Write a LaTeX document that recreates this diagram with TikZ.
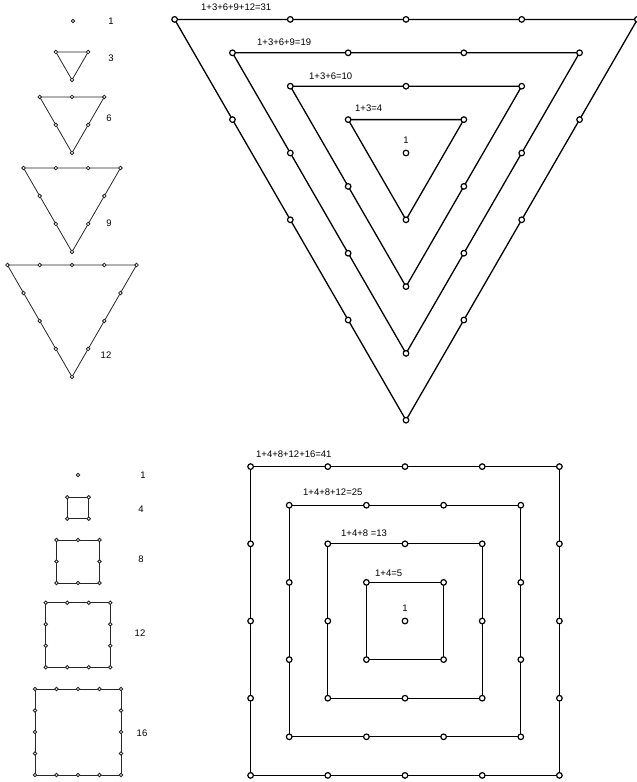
\documentclass[tikz,border=0pt]{standalone}
\usepackage{fontspec}
\setmainfont{Liberation Sans}
\usetikzlibrary{calc}

\begin{document}
\begin{tikzpicture}[x=1pt, y=-1pt,
    edge/.style={line width=1.3pt},
    thin edge/.style={line width=0.8pt, black!85},
    dot/.style={draw, line width=1.2pt, fill=white},
    small dot/.style={draw, line width=0.8pt, black!85, fill=white},
    lbl/.style={font=\fontsize{9.5}{10}\selectfont, inner sep=0pt}]

  \useasboundingbox (0,0) rectangle (637,782);

  % === Small triangles (left) ===
  \draw[small dot] (73,21) circle[radius=1.8pt];
  \node[lbl] (t1) at (111,21) {1};
  \foreach \k/\txt/\cy/\lx/\ly in {1/3/61.3/111/58, 2/6/115.6/109/118,
                                   3/9/196/109/223, 4/12/302.3/106/355} {
    \pgfmathsetmacro\s{32.3*\k}
    \coordinate (A) at (72-\s/2, \cy-\s*0.288675);
    \coordinate (B) at (72+\s/2, \cy-\s*0.288675);
    \coordinate (C) at (72, \cy+\s*0.57735);
    \draw[thin edge] (A) -- (B) -- (C) -- cycle;
    \pgfmathtruncatemacro\n{\k-1}
    \foreach \i in {0,...,\n} {
      \pgfmathsetmacro\f{\i/\k}
      \draw[small dot] ($(A)!\f!(B)$) circle[radius=1.8pt];
      \draw[small dot] ($(B)!\f!(C)$) circle[radius=1.8pt];
      \draw[small dot] ($(C)!\f!(A)$) circle[radius=1.8pt];
    }
    \node[lbl] at (\lx,\ly) {\txt};
  }

  % === Big nested triangles ===
  \foreach \k/\txt/\lx/\ly in {1/{1+3=4}/355/108, 2/{1+3+6=10}/309/76,
                               3/{1+3+6+9=19}/257/42, 4/{1+3+6+9+12=31}/201/7} {
    \pgfmathsetmacro\s{115.7*\k}
    \coordinate (A) at (406-\s/2, 153-\s*0.288675);
    \coordinate (B) at (406+\s/2, 153-\s*0.288675);
    \coordinate (C) at (406, 153+\s*0.57735);
    \draw[edge] (A) -- (B) -- (C) -- cycle;
    \pgfmathtruncatemacro\n{\k-1}
    \foreach \i in {0,...,\n} {
      \pgfmathsetmacro\f{\i/\k}
      \draw[dot] ($(A)!\f!(B)$) circle[radius=2.8pt];
      \draw[dot] ($(B)!\f!(C)$) circle[radius=2.8pt];
      \draw[dot] ($(C)!\f!(A)$) circle[radius=2.8pt];
    }
    \node[lbl, anchor=west] at (\lx,\ly) {\txt};
  }
  \draw[dot] (406,153) circle[radius=2.8pt];
  \node[lbl] (tc) at (406,140) {1};

  % === Small squares (left) ===
  \draw[small dot] (78,475) circle[radius=1.8pt];
  \node[lbl] (s1) at (143,475) {1};
  \foreach \k/\txt/\cy/\lx/\ly in {1/4/508/141/509, 2/8/561.5/141/559,
                                   3/12/635/140/633, 4/16/732/142/733} {
    \pgfmathsetmacro\h{10.75*\k}
    \coordinate (A) at (78-\h, \cy-\h);
    \coordinate (B) at (78+\h, \cy-\h);
    \coordinate (C) at (78+\h, \cy+\h);
    \coordinate (D) at (78-\h, \cy+\h);
    \draw[thin edge] (A) -- (B) -- (C) -- (D) -- cycle;
    \pgfmathtruncatemacro\n{\k-1}
    \foreach \i in {0,...,\n} {
      \pgfmathsetmacro\f{\i/\k}
      \draw[small dot] ($(A)!\f!(B)$) circle[radius=1.8pt];
      \draw[small dot] ($(B)!\f!(C)$) circle[radius=1.8pt];
      \draw[small dot] ($(C)!\f!(D)$) circle[radius=1.8pt];
      \draw[small dot] ($(D)!\f!(A)$) circle[radius=1.8pt];
    }
    \node[lbl] at (\lx,\ly) {\txt};
  }

  % === Big nested squares ===
  \foreach \k/\txt/\lx/\ly in {1/{1+4=5}/375/573, 2/{1+4+8 =13}/341/533,
                               3/{1+4+8+12=25}/303/492, 4/{1+4+8+12+16=41}/256/454} {
    \pgfmathsetmacro\h{38.6*\k}
    \coordinate (A) at (405-\h, 621-\h);
    \coordinate (B) at (405+\h, 621-\h);
    \coordinate (C) at (405+\h, 621+\h);
    \coordinate (D) at (405-\h, 621+\h);
    \draw[edge] (A) -- (B) -- (C) -- (D) -- cycle;
    \pgfmathtruncatemacro\n{\k-1}
    \foreach \i in {0,...,\n} {
      \pgfmathsetmacro\f{\i/\k}
      \draw[dot] ($(A)!\f!(B)$) circle[radius=2.8pt];
      \draw[dot] ($(B)!\f!(C)$) circle[radius=2.8pt];
      \draw[dot] ($(C)!\f!(D)$) circle[radius=2.8pt];
      \draw[dot] ($(D)!\f!(A)$) circle[radius=2.8pt];
    }
    \node[lbl, anchor=west] at (\lx,\ly) {\txt};
  }
  \draw[dot] (405,621) circle[radius=2.8pt];
  \node[lbl] (sc) at (405,608) {1};

\end{tikzpicture}
\end{document}
